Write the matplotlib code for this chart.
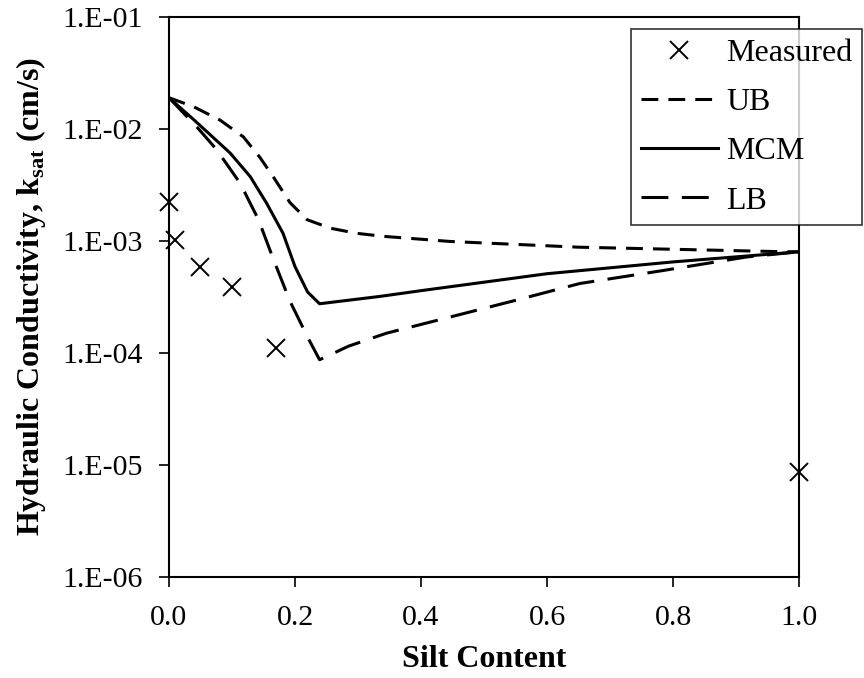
import numpy as np
import matplotlib
matplotlib.use("Agg")
import matplotlib.pyplot as plt
from matplotlib.ticker import FuncFormatter, FixedLocator, NullLocator

# ===========================
# DATA
# ===========================
measured_x = [0.0, 0.01, 0.05, 0.10, 0.17, 1.0]
measured_k = [2.24e-3, 1.03e-3, 5.9e-4, 3.9e-4, 1.1e-4, 8.7e-6]

ub_x = [0.0, 0.039, 0.081, 0.118, 0.144, 0.166, 0.192, 0.219, 0.256, 0.298,
        0.34, 0.446, 0.65, 0.96, 1.0]
ub_k = [1.9e-2, 1.58e-2, 1.2e-2, 8.5e-3, 5.6e-3, 3.7e-3, 2.2e-3, 1.55e-3,
        1.3e-3, 1.17e-3, 1.1e-3, 9.9e-4, 8.8e-4, 8.05e-4, 8.0e-4]

mcm_x = [0.0, 0.04, 0.097, 0.129, 0.155, 0.181, 0.20, 0.22, 0.239, 0.335,
         0.4, 0.6, 0.8, 1.0]
mcm_k = [1.9e-2, 1.2e-2, 6.1e-3, 3.75e-3, 2.17e-3, 1.17e-3, 5.9e-4, 3.5e-4,
         2.75e-4, 3.2e-4, 3.6e-4, 5.1e-4, 6.5e-4, 8.0e-4]

lb_x = [0.0, 0.047, 0.073, 0.089, 0.113, 0.142, 0.166, 0.192, 0.221, 0.239,
        0.285, 0.345, 0.45, 0.55, 0.652, 0.78, 0.917, 1.0]
lb_k = [1.9e-2, 1.0e-2, 6.8e-3, 5.1e-3, 3.27e-3, 1.55e-3, 6.8e-4, 2.9e-4,
        1.35e-4, 8.7e-5, 1.15e-4, 1.5e-4, 2.12e-4, 2.95e-4, 4.17e-4, 5.4e-4,
        7.2e-4, 8.0e-4]

x_ticks = [0.0, 0.2, 0.4, 0.6, 0.8, 1.0]
y_ticks = [1e-6, 1e-5, 1e-4, 1e-3, 1e-2, 1e-1]

# ===========================
# STYLE
# ===========================
plt.rcParams["font.family"] = ["Liberation Serif", "DejaVu Serif"]
plt.rcParams["mathtext.fontset"] = "custom"
plt.rcParams["mathtext.rm"] = "Liberation Serif"
plt.rcParams["mathtext.bf"] = "Liberation Serif:bold"
fs = 21.5      # tick labels
fs_lab = 23    # axis titles and legend
plt.rcParams["font.size"] = fs

fig = plt.figure(figsize=(8.64, 6.78), dpi=100)
ax = fig.add_axes([0.1956, 0.149, 0.7292, 0.826])

lw = 2.2
ax.plot(measured_x, measured_k, linestyle="none", marker="x", color="black",
        markersize=13, markeredgewidth=1.4, label="Measured", clip_on=False, zorder=5)
ax.plot(ub_x, ub_k, color="black", linewidth=lw, linestyle=(0, (5.5, 3.3)), label="UB")
ax.plot(mcm_x, mcm_k, color="black", linewidth=lw, linestyle="-", label="MCM")
ax.plot(lb_x, lb_k, color="black", linewidth=lw, linestyle=(0, (8.8, 4.4)), label="LB")

ax.set_yscale("log")
ax.set_xlim(0, 1)
ax.set_ylim(1e-6, 1e-1)

ax.xaxis.set_major_locator(FixedLocator(x_ticks))
ax.yaxis.set_major_locator(FixedLocator(y_ticks))
ax.yaxis.set_minor_locator(NullLocator())
ax.xaxis.set_major_formatter(FuncFormatter(lambda v, p: f"{v:.1f}"))
ax.yaxis.set_major_formatter(
    FuncFormatter(lambda v, p: f"1.E{int(round(np.log10(v))):03d}"))

ax.tick_params(axis="both", direction="out", length=7, width=1.2,
               labelsize=fs, color="black")
ax.tick_params(axis="y", pad=12)
ax.tick_params(axis="x", pad=13)

for side in ["left", "right", "top", "bottom"]:
    ax.spines[side].set_linewidth(1.5)
    ax.spines[side].set_color("black")

ax.set_xlabel("Silt Content", fontsize=fs_lab, fontweight="bold", labelpad=10)
ax.set_ylabel(r"Hydraulic Conductivity, k$_{\mathbf{sat}}$ (cm/s)",
              fontsize=fs_lab, fontweight="bold", labelpad=10)

leg = fig.legend(loc="upper right", bbox_to_anchor=(0.998, 0.957),
                 frameon=True, fancybox=False, edgecolor="black",
                 fontsize=fs_lab, handlelength=2.44, labelspacing=0.62,
                 handletextpad=0.25, borderpad=0.3, borderaxespad=0)
leg.get_frame().set_linewidth(1.2)

plt.savefig("out.png", dpi=100)
